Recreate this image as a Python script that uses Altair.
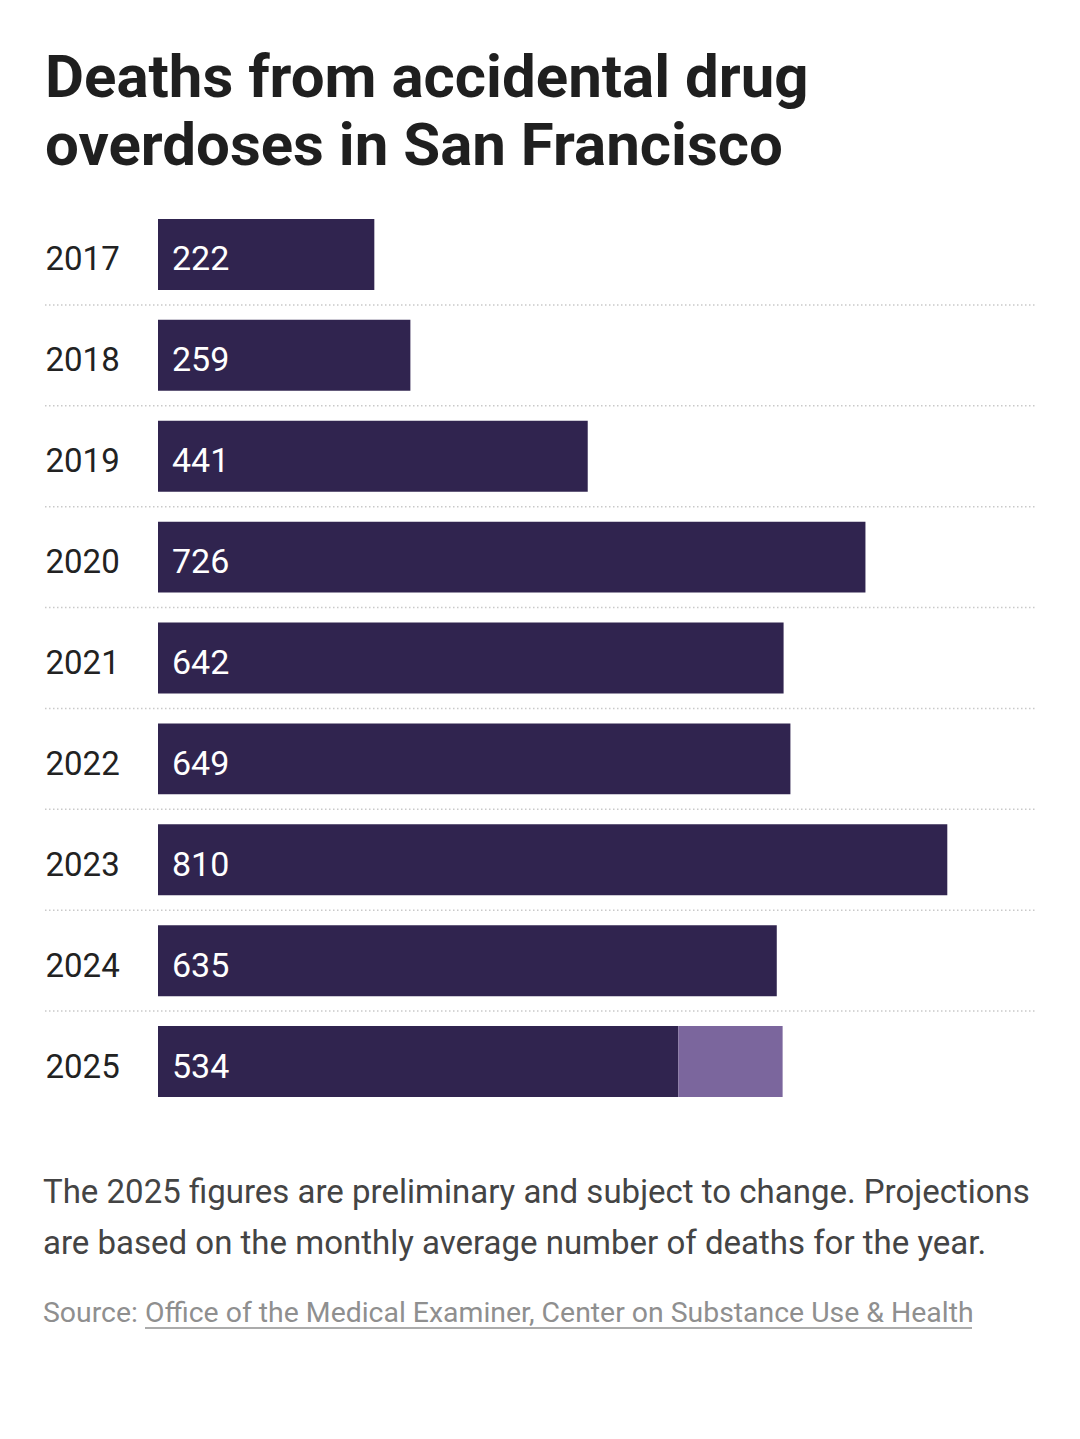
import altair as alt
import pandas as pd

years = ["2017", "2018", "2019", "2020", "2021", "2022", "2023", "2024", "2025"]
deaths = [222, 259, 441, 726, 642, 649, 810, 635, 534]
proj_year = ["2025"]
proj_start = [534]
proj_end = [641]

title_lines = ["Deaths from accidental drug", "overdoses in San Francisco"]
note_lines = ["The 2025 figures are preliminary and subject to change. Projections",
              "are based on the monthly average number of deaths for the year."]
source_label = "Source:"
source_link = "Office of the Medical Examiner, Center on Substance Use & Health"

df = pd.DataFrame({"year": years, "deaths": deaths})
proj = pd.DataFrame({"year": proj_year, "start": proj_start, "end": proj_end})
seps = pd.DataFrame({"year": years[1:]})

FONT = "Roboto"
DARK = "#30244f"
LIGHT = "#7b669d"

y_enc = alt.Y("year:O", sort=years, title=None,
              scale=alt.Scale(paddingInner=0.297, paddingOuter=0.1485),
              axis=alt.Axis(labelAlign="left", labelPadding=113, ticks=False, domain=False,
                            labelFont=FONT, labelFontSize=33, labelColor="#222222",
                            labelBaseline="middle", labelOffset=6, grid=False))
x_scale = alt.Scale(domain=[0, 900])

bars = alt.Chart(df).mark_bar(color=DARK).encode(
    x=alt.X("deaths:Q", scale=x_scale, axis=None),
    y=y_enc,
)
proj_bar = alt.Chart(proj).mark_bar(color=LIGHT).encode(
    x=alt.X("start:Q", scale=x_scale, axis=None),
    x2="end:Q",
    y=y_enc,
)
values = alt.Chart(df).mark_text(align="left", baseline="middle", dx=14, dy=6,
                                 font=FONT, fontSize=34, color="white").encode(
    x=alt.datum(0),
    y=y_enc,
    text=alt.Text("deaths:Q"),
)
sep_rules = alt.Chart(seps).mark_rule(color="#c9c9c9", strokeWidth=1.5, strokeDash=[1.5, 2.5],
                                      yOffset=-50.45).encode(
    x=alt.value(-113), x2=alt.value(877),
    y=y_enc,
)

def note(text, y, x=-115, size=33, color="#444444"):
    return alt.Chart(pd.DataFrame({"t": [text]})).mark_text(
        align="left", baseline="alphabetic", font=FONT, fontSize=size, color=color
    ).encode(x=alt.value(x), y=alt.value(y), text="t:N")

n1 = note(note_lines[0], 999)
n2 = note(note_lines[1], 1050)
s1 = note(source_label, 1118, size=28.4, color="#8f8f8f")
s2 = note(source_link, 1118, x=-13, size=28.4, color="#8f8f8f")
underline = alt.Chart(pd.DataFrame({"t": [source_link]})).mark_rule(color="#8f8f8f", strokeWidth=1.5).encode(
    x=alt.value(-13), x2=alt.value(814), y=alt.value(1124))

chart = alt.layer(sep_rules, bars, proj_bar, values, n1, n2, s1, s2, underline).properties(
    width=877, height=908,
    padding={"left": 150, "top": 196, "right": 37, "bottom": 319},
    autosize=alt.AutoSizeParams(type="none"),
    background="white",
    title=alt.TitleParams(title_lines, anchor="start", frame="group", dx=-113, offset=26,
                          font=FONT, fontSize=60, fontWeight=700, color="#1f1f1f",
                          lineHeight=68),
).configure_view(stroke=None)

chart.save("out.html", embed_options={"renderer": "svg", "actions": False})
